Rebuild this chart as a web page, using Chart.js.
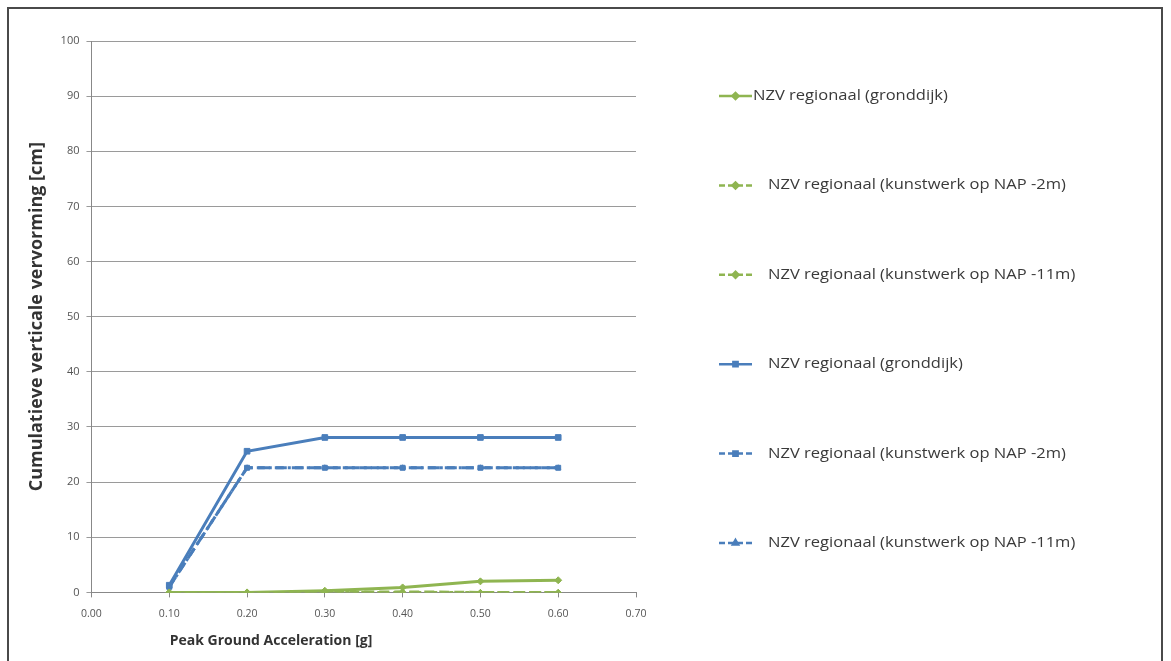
<!DOCTYPE html>
<html>
<head>
<meta charset="utf-8">
<title>Cumulatieve verticale vervorming</title>
<script src="https://cdn.jsdelivr.net/npm/chart.js"></script>
<style>
  html, body { margin: 0; padding: 0; background: #fff; overflow: hidden; }
  #wrap { position: relative; width: 1171px; height: 661px; }
  #frame { position: absolute; left: 7px; top: 7px; width: 1156px; height: 700px; border: 2px solid #4a4a4a; box-sizing: border-box; }
  canvas { position: absolute; left: 0; top: 0; }
</style>
</head>
<body>
<div id="wrap">
  <div id="frame"></div>
  <canvas id="pgaChart" width="1171" height="661"></canvas>
</div>
<script>
// PGA values on the x axis
const pga = [0.10, 0.20, 0.30, 0.40, 0.50, 0.60];

// cumulative vertical deformation [cm]
const greenDike = [0, 0, 0.3, 0.9, 2.0, 2.2];
const greenNap2 = [0, 0, 0, 0.1, 0, 0];
const greenNap11 = [0, 0, 0, 0, 0, 0];
const blueDike = [1.3, 25.6, 28.1, 28.1, 28.1, 28.1];
const blueNap2 = [1.0, 22.6, 22.6, 22.6, 22.6, 22.6];
const blueNap11 = [1.0, 22.6, 22.6, 22.6, 22.6, 22.6];

const labels = [
  'NZV regionaal (gronddijk)',
  'NZV regionaal (kunstwerk op NAP -2m)',
  'NZV regionaal (kunstwerk op NAP -11m)',
  'NZV regionaal (gronddijk)',
  'NZV regionaal (kunstwerk op NAP -2m)',
  'NZV regionaal (kunstwerk op NAP -11m)'
];

const green = '#8fb551';
const blue = '#4a7ebb';
const font = '"Open Sans", sans-serif';

function series(label, values, color, dash, marker, size) {
  return {
    label: label,
    data: values.map((v, i) => ({ x: pga[i], y: v })),
    borderColor: color,
    backgroundColor: color,
    borderWidth: 3,
    borderDash: dash,
    pointStyle: marker,
    pointRadius: size,
    pointBorderWidth: 1,
    tension: 0
  };
}

const datasets = [
  series(labels[0], greenDike, green, [], 'rectRot', 3.5),
  series(labels[1], greenNap2, green, [10, 5], 'rectRot', 3),
  series(labels[2], greenNap11, green, [4, 4], 'rectRot', 3),
  series(labels[3], blueDike, blue, [], 'rect', 4),
  series(labels[4], blueNap2, blue, [12, 5], 'rect', 3.5),
  series(labels[5], blueNap11, blue, [8, 4, 3, 4], 'triangle', 3)
];

// legend at the right and the x title, drawn like the original spreadsheet chart
const sideLegend = {
  id: 'sideLegend',
  afterDraw(chart) {
    const ctx = chart.ctx;
    ctx.save();
    chart.data.datasets.forEach((ds, i) => {
      const y = 96 + i * 89.4;
      const x0 = 719, x1 = 752;
      ctx.strokeStyle = ds.borderColor;
      ctx.lineWidth = 2.5;
      ctx.setLineDash(ds.borderDash.length ? [6, 3] : []);
      ctx.beginPath();
      ctx.moveTo(x0, y);
      ctx.lineTo(x1, y);
      ctx.stroke();
      ctx.setLineDash([]);
      ctx.fillStyle = ds.borderColor;
      Chart.helpers.drawPoint(ctx, { pointStyle: ds.pointStyle, radius: 3, borderWidth: 1 }, (x0 + x1) / 2, y);
      // the original text is a bit wider than Open Sans
      ctx.save();
      ctx.translate(i === 0 ? 753 : 768, y);
      ctx.scale(1.18, 1);
      ctx.fillStyle = '#3a3a3a';
      ctx.font = '14px ' + font;
      ctx.textBaseline = 'middle';
      ctx.fillText(ds.label, 0, 0);
      ctx.restore();
    });
    ctx.fillStyle = '#333';
    ctx.font = 'bold 14px ' + font;
    ctx.textAlign = 'center';
    ctx.textBaseline = 'middle';
    ctx.fillText('Peak Ground Acceleration [g]', 271, 641);
    ctx.restore();
  }
};

new Chart(document.getElementById('pgaChart').getContext('2d'), {
  type: 'line',
  data: { datasets: datasets },
  plugins: [sideLegend],
  options: {
    responsive: false,
    animation: false,
    layout: { padding: { left: 26, top: 41, right: 535, bottom: 31 } },
    plugins: {
      legend: { display: false },
      tooltip: { enabled: false }
    },
    scales: {
      x: {
        type: 'linear',
        min: 0,
        max: 0.7,
        ticks: {
          stepSize: 0.1,
          color: '#555',
          font: { size: 10.5, family: font },
          padding: 10,
          callback: v => v.toFixed(2)
        },
        grid: { display: true, drawOnChartArea: false, color: '#888', tickLength: 5 },
        border: { color: '#888', width: 1 }
      },
      y: {
        min: 0,
        max: 100,
        ticks: {
          stepSize: 10,
          color: '#555',
          font: { size: 11, family: font },
          padding: 7
        },
        grid: { color: '#9a9a9a', lineWidth: 1, tickLength: 5 },
        border: { color: '#888', width: 1 },
        title: {
          display: true,
          text: 'Cumulatieve verticale vervorming [cm]',
          color: '#333',
          font: { size: 18, weight: 'bold', family: font },
          padding: { top: 0, bottom: 6 }
        }
      }
    }
  }
});
</script>
</body>
</html>
